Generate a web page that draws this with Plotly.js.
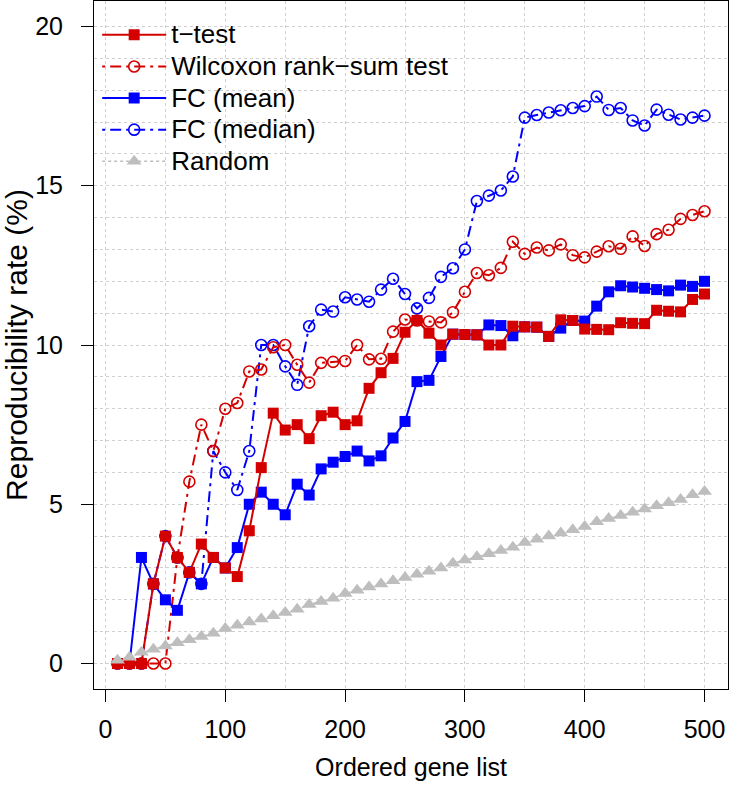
<!DOCTYPE html>
<html>
<head>
<meta charset="utf-8">
<script src="https://cdn.plot.ly/plotly-3.0.1.min.js"></script>
<style>html,body{margin:0;padding:0;background:#fff;}#chart{width:729px;height:785px;}</style>
</head>
<body>
<div id="chart"></div>
<script>
const listSize = [10,20,30,40,50,60,70,80,90,100,110,120,130,140,150,160,170,180,190,200,
  210,220,230,240,250,260,270,280,290,300,310,320,330,340,350,360,370,380,390,400,
  410,420,430,440,450,460,470,480,490,500];

const tTest = [0,0,0,2.5,4.0,3.33,2.86,3.75,3.33,3.0,2.73,4.17,6.15,7.86,7.33,7.5,7.06,7.78,7.89,7.5,
  7.62,8.64,9.13,9.58,10.4,10.77,10.37,10.0,10.34,10.33,10.32,10.0,10.0,10.59,10.57,10.56,10.27,10.79,10.77,10.5,
  10.49,10.48,10.7,10.68,10.67,11.09,11.06,11.04,11.43,11.6];

const wilcoxon = [0,0,0,0,0,3.33,5.71,7.5,6.67,8.0,8.18,9.17,9.23,9.93,10.0,9.38,8.82,9.44,9.47,9.5,
  10.0,9.55,9.57,10.42,10.8,10.77,10.74,10.71,11.03,11.67,12.26,12.19,12.42,13.24,12.86,13.06,12.97,13.16,12.82,12.75,
  12.93,13.1,13.02,13.41,13.11,13.48,13.62,13.96,14.08,14.2];

const fcMean = [0,0,3.33,2.5,2.0,1.67,2.86,2.5,3.33,3.0,3.64,5.0,5.38,5.0,4.67,5.63,5.29,6.11,6.32,6.5,
  6.67,6.36,6.52,7.08,7.6,8.85,8.89,9.64,10.34,10.33,10.32,10.63,10.61,10.29,10.57,10.56,10.27,10.53,10.77,10.75,
  11.22,11.67,11.86,11.82,11.78,11.74,11.7,11.88,11.84,12.0];

const fcMedian = [0,0,0,2.5,4.0,3.33,2.86,2.5,6.67,6.0,5.45,6.67,10.0,10.0,9.33,8.75,10.59,11.11,11.05,11.5,
  11.43,11.36,11.74,12.08,11.6,11.15,11.48,12.14,12.41,13.0,14.52,14.69,14.85,15.29,17.14,17.22,17.3,17.37,17.44,17.5,
  17.8,17.38,17.44,17.05,16.89,17.39,17.23,17.08,17.14,17.2];

const randomRate = [0.1,0.2,0.35,0.45,0.55,0.65,0.75,0.85,0.95,1.1,1.2,1.3,1.4,1.5,1.6,1.7,1.85,1.95,2.05,2.2,
  2.3,2.4,2.5,2.6,2.7,2.8,2.9,3.0,3.15,3.25,3.35,3.45,3.55,3.65,3.8,3.9,4.0,4.1,4.2,4.3,
  4.45,4.55,4.65,4.75,4.85,4.95,5.05,5.15,5.3,5.4];

const seriesNames = ['t\u2212test','Wilcoxon rank\u2212sum test','FC (mean)','FC (median)','Random'];
const xTicks = [0,100,200,300,400,500];
const yTicks = [0,5,10,15,20];

const RED = '#d40000', BLUE = '#0000ff', GREY = '#bebebe';
const DASHDOT = '3px,5px,11px,5px';
const FONT = 'Liberation Sans, Arial, Helvetica, sans-serif';
const legendLabel = s => '<span style="font-size:26px">' + s + '</span>';

// drawn in this order (open circles underneath the filled squares); legend order via legendrank
const traces = [
  {x:listSize, y:fcMedian, name:legendLabel(seriesNames[3]), legendrank:4, mode:'lines+markers',
   line:{color:BLUE,width:2,dash:DASHDOT}, marker:{symbol:'circle-open',size:11,color:BLUE,line:{width:1.6,color:BLUE}}},
  {x:listSize, y:wilcoxon, name:legendLabel(seriesNames[1]), legendrank:2, mode:'lines+markers',
   line:{color:RED,width:2,dash:DASHDOT}, marker:{symbol:'circle-open',size:11,color:RED,line:{width:1.6,color:RED}}},
  {x:listSize, y:fcMean, name:legendLabel(seriesNames[2]), legendrank:3, mode:'lines+markers',
   line:{color:BLUE,width:2}, marker:{symbol:'square',size:11,color:BLUE}},
  {x:listSize, y:tTest, name:legendLabel(seriesNames[0]), legendrank:1, mode:'lines+markers',
   line:{color:RED,width:2}, marker:{symbol:'square',size:11,color:RED}},
  {x:listSize, y:randomRate, name:legendLabel(seriesNames[4]), legendrank:5, mode:'lines+markers',
   line:{color:GREY,width:1.5,dash:'dot'}, marker:{symbol:'triangle-up',size:13,color:GREY}}
];

const gridStyle = {gridcolor:'#d0d0d0', griddash:'dot', gridwidth:1};

const layout = {
  width:729, height:785,
  margin:{l:94, r:1, t:1, b:96},
  paper_bgcolor:'#fff', plot_bgcolor:'#fff',
  font:{family:FONT, color:'#000', size:22},
  showlegend:true,
  legend:{x:0.005, y:0.981, xanchor:'left', yanchor:'top', bgcolor:'rgba(0,0,0,0)', traceorder:'normal',
          font:{family:FONT, size:22, color:'#000'}, tracegroupgap:0, itemwidth:64},
  xaxis:{range:[-9.6,519.6], tickmode:'array', tickvals:xTicks, ticktext:xTicks.map(String),
         ticks:'outside', ticklen:12, tickwidth:1, tickcolor:'#000', ticklabelstandoff:6,
         showline:true, linecolor:'#000', linewidth:1, mirror:true, zeroline:false,
         showgrid:true, ...gridStyle,
         minor:{tickmode:'linear', tick0:0, dtick:50, showgrid:true, ...gridStyle, ticks:''},
         tickfont:{family:FONT, size:25, color:'#000'},
         title:{text:'Ordered gene list', font:{family:FONT, size:25, color:'#000'}, standoff:16}},
  yaxis:{range:[-0.8,20.8], tickmode:'array', tickvals:yTicks, ticktext:yTicks.map(String),
         ticks:'outside', ticklen:12, tickwidth:1, tickcolor:'#000', ticklabelstandoff:13,
         showline:true, linecolor:'#000', linewidth:1, mirror:true, zeroline:false,
         showgrid:true, ...gridStyle,
         minor:{tickmode:'linear', tick0:0, dtick:1, showgrid:true, ...gridStyle, ticks:''},
         tickfont:{family:FONT, size:25, color:'#000'},
         title:{text:'Reproducibility rate (%)', font:{family:FONT, size:30, color:'#000'}, standoff:4}}
};

Plotly.newPlot('chart', traces, layout, {displayModeBar:false, staticPlot:true});
</script>
</body>
</html>
